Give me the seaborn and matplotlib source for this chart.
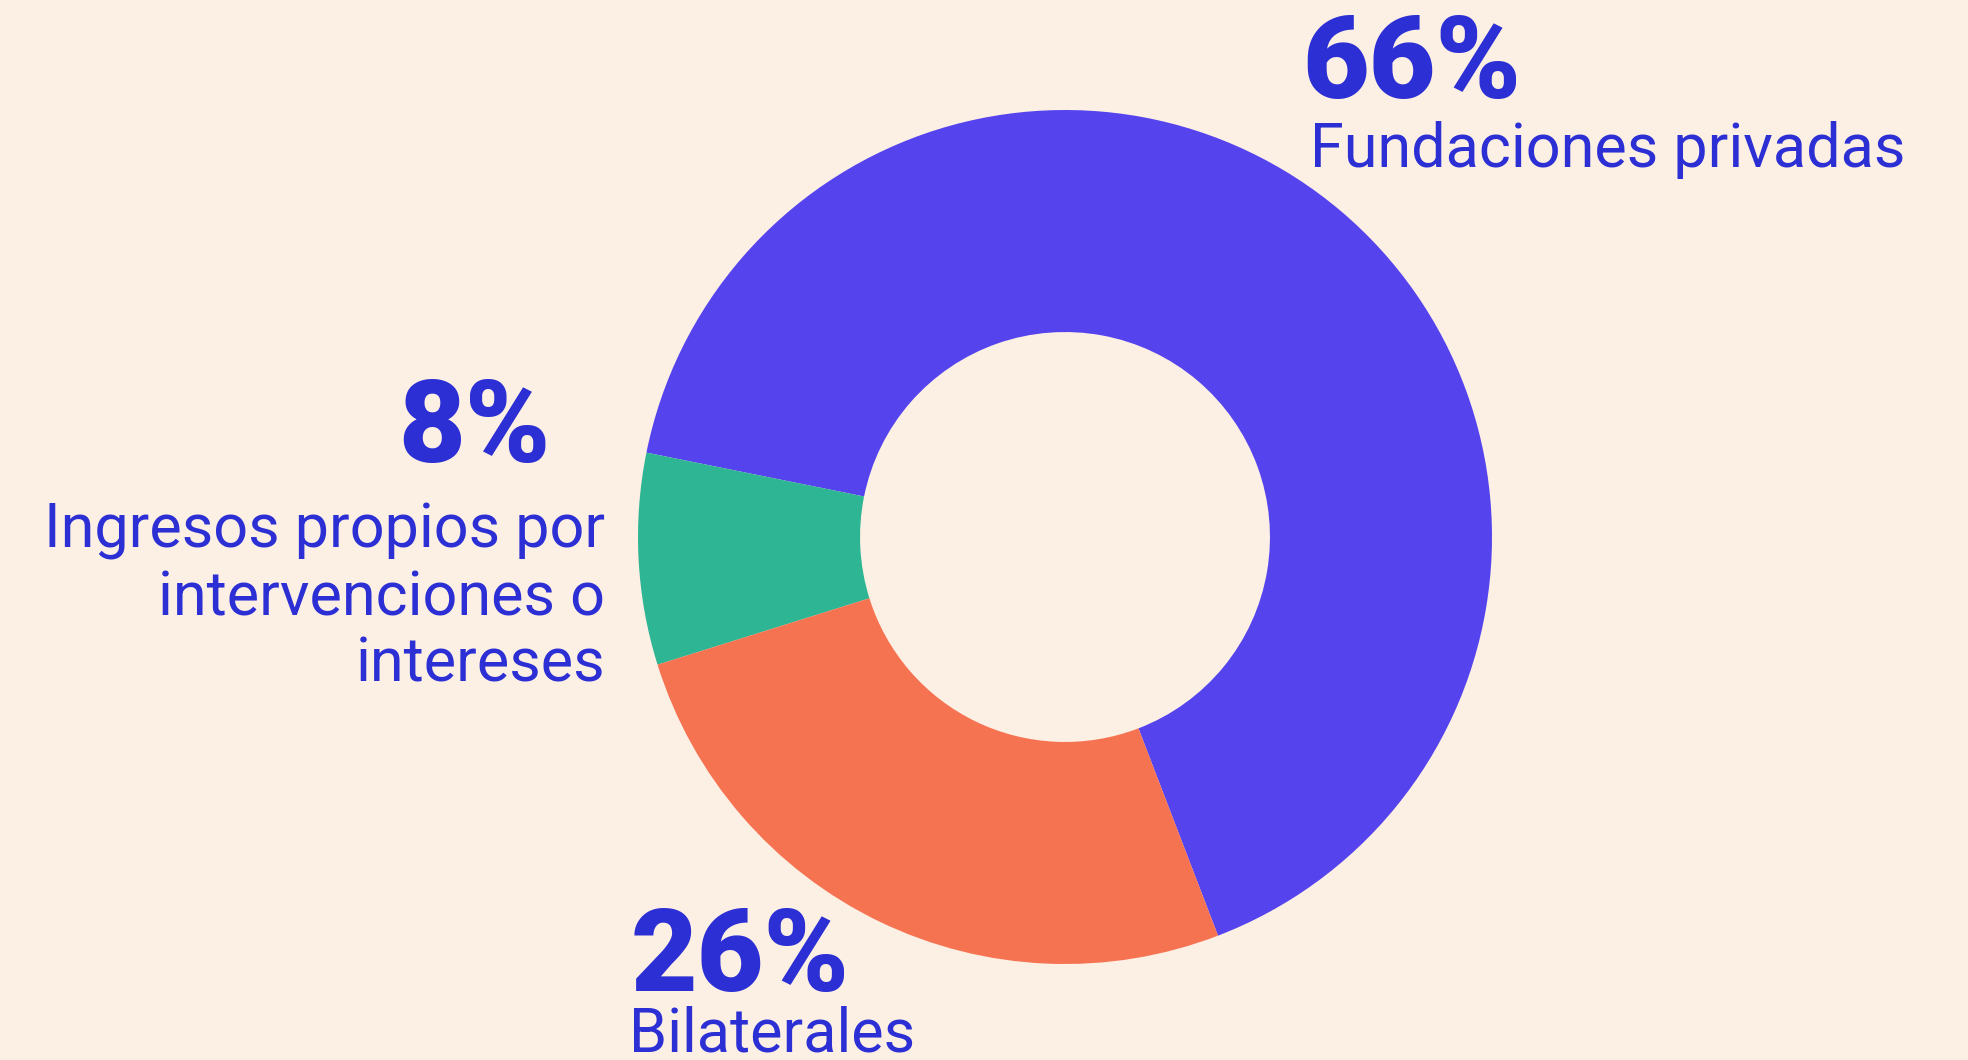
import matplotlib
matplotlib.use("Agg")
import matplotlib.pyplot as plt
import seaborn as sns

# ─────────────────────────────
#  DATA
# ─────────────────────────────
categories = ["Fundaciones privadas", "Ingresos propios", "Bilaterales"]
shares     = [66, 8, 26]
pct_labels = ["66%", "8%", "26%"]
ingresos_lines = ["Ingresos propios por", "intervenciones o", "intereses"]

# ─────────────────────────────
#  STYLE
# ─────────────────────────────
BG      = '#FCEFE4'
TXT     = '#2B2FD4'
palette = ['#5543EE', '#2EB593', '#F67352']

sns.set_theme(style='white', rc={'figure.facecolor': BG, 'axes.facecolor': BG})
plt.rcParams['font.family'] = ['Roboto', 'DejaVu Sans']

W, H = 1968, 1060
fig = plt.figure(figsize=(W / 100, H / 100), dpi=100)

# donut: centre (1065, 537) px from top-left, radius 427 px
cx, cy, r = 1065, 537, 427
ax = fig.add_axes([(cx - r) / W, (H - cy - r) / H, 2 * r / W, 2 * r / H])
ax.pie(shares, colors=palette, startangle=-69, counterclock=True,
       radius=1.0, wedgeprops=dict(width=0.52, linewidth=0))
ax.set_xlim(-1, 1)
ax.set_ylim(-1, 1)
ax.set_aspect('equal')
ax.axis('off')


def px(x, y):
    return x / W, 1 - y / H


big = dict(color=TXT, fontsize=83, fontweight='black', va='baseline')
lab = dict(color=TXT, fontsize=44, va='baseline')

# 66% — Fundaciones privadas
fig.text(*px(1302, 98), pct_labels[0], ha='left', **big)
fig.text(*px(1310, 167), categories[0], ha='left', **lab)

# 8% — Ingresos propios
fig.text(*px(551, 462), pct_labels[1], ha='right', **big)
for i, line in enumerate(ingresos_lines):
    fig.text(*px(605, 548 + i * 67), line, ha='right', **lab)

# 26% — Bilaterales
fig.text(*px(631, 991), pct_labels[2], ha='left', **big)
fig.text(*px(629, 1052), categories[2], ha='left', **lab)

plt.savefig('out.png', dpi=100, facecolor=BG)
